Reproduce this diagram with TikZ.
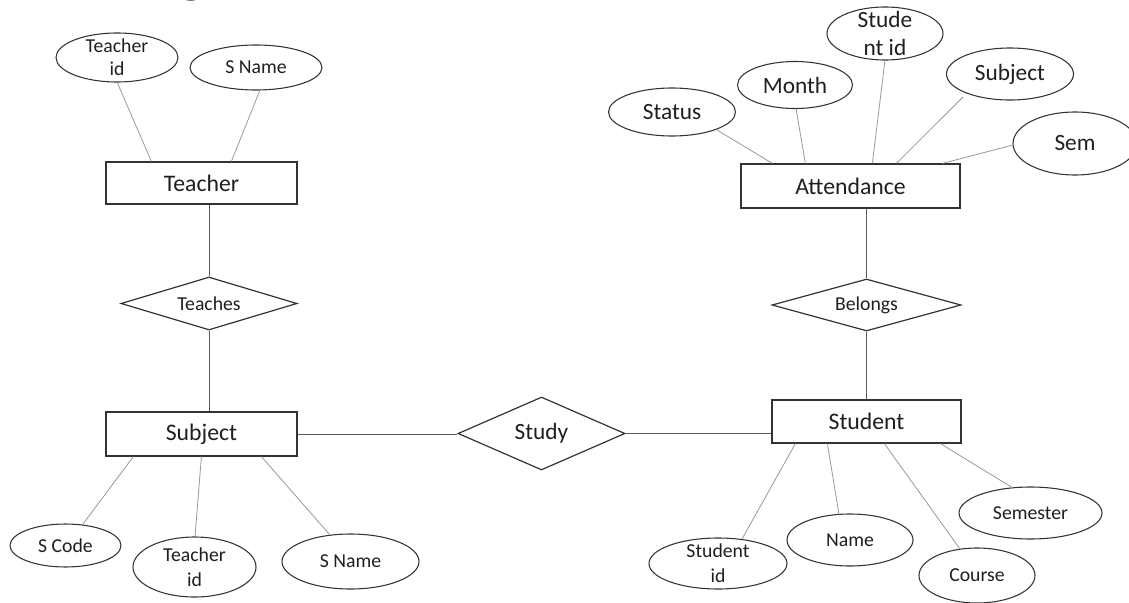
\documentclass[tikz,border=0pt]{standalone}
\usepackage{fontspec}
\setmainfont{Carlito}
\usetikzlibrary{shapes.geometric,calc}
\definecolor{ink}{HTML}{1F1F1F}
\definecolor{frame}{HTML}{333333}
\definecolor{link}{HTML}{5A5A5A}
\definecolor{attrlink}{HTML}{999999}
\begin{document}
\begin{tikzpicture}[x=0.75pt,y=-0.75pt,
  entity/.style={draw=frame,line width=0.9pt,rectangle,inner sep=0pt,font=\fontsize{17.8}{21}\selectfont,text=ink},
  rel/.style={draw=frame,line width=0.9pt,diamond,aspect=3,inner sep=0pt,font=\fontsize{14.8}{17}\selectfont,text=ink},
  attr/.style={draw=frame,line width=0.8pt,ellipse,inner sep=0pt,font=\fontsize{14.8}{17}\selectfont,text=ink},
  bigattr/.style={attr,font=\fontsize{17.5}{20}\selectfont},
  conn/.style={draw=link,line width=0.6pt},
  aconn/.style={draw=attrlink,line width=0.6pt},
  lbl/.style={align=center,inner sep=0pt,text=ink}
]
\useasboundingbox[fill=white] (0,0) rectangle (1129,603);
\clip (0,0) rectangle (1129,603);

% cut-off title
\node[anchor=base west,inner sep=0pt,font=\fontsize{42}{48}\selectfont,text=ink] (title) at (34,-8) {ER Diagram};

% entities
\node[entity,minimum width=143.25pt,minimum height=31.5pt] (Teacher) at (201.5,183) {Teacher};
\node[entity,minimum width=164.25pt,minimum height=33pt] (Attendance) at (850.5,186) {Attendance};
\node[entity,minimum width=143.25pt,minimum height=33pt] (Subject) at (201.5,434) {Subject};
\node[entity,minimum width=141.75pt,minimum height=32.25pt] (Student) at (866.5,421.5) {Student};

% relationships
\node[rel,minimum width=132pt,minimum height=39.75pt] (Teaches) at (209,303.5) {Teaches};
\node[rel,minimum width=141.75pt,minimum height=39pt] (Belongs) at (866.5,305) {Belongs};
\node[rel,font=\fontsize{17.5}{20}\selectfont,minimum width=125.25pt,minimum height=54.75pt] (Study) at (541.5,433.5) {Study};

% teacher attributes
\node[attr,minimum width=91.5pt,minimum height=36.75pt,
  label={[lbl,font=\fontsize{14.8}{17.5}\selectfont]center:Teacher\\id}] (tid1) at (117,57.5) {};
\node[attr,minimum width=99pt,minimum height=33.75pt] (tsn) at (256,67.5) {S Name};

% attendance attributes
\node[bigattr,minimum width=95.25pt,minimum height=36pt] (status) at (672,112) {Status};
\node[bigattr,minimum width=86.25pt,minimum height=35.25pt] (month) at (795,85) {Month};
\node[bigattr,minimum width=87pt,minimum height=39.75pt,
  label={[lbl,font=\fontsize{17.5}{20.5}\selectfont]center:Stude\\nt id}] (asid) at (885,33.5) {};
\node[bigattr,minimum width=95.25pt,minimum height=39pt] (asub) at (1010,74) {Subject};
\node[bigattr,minimum width=93pt,minimum height=47.25pt] (sem) at (1075,143.5) {Sem};

% subject attributes
\node[attr,minimum width=83.25pt,minimum height=32.25pt] (scode) at (65.5,545.5) {S Code};
\node[attr,minimum width=92.25pt,minimum height=45pt,
  label={[lbl,font=\fontsize{14.8}{19}\selectfont]center:Teacher\\id}] (stid) at (194.5,567) {};
\node[attr,minimum width=102.75pt,minimum height=41.25pt] (ssn) at (350.5,561.5) {S Name};

% student attributes
\node[attr,minimum width=103.5pt,minimum height=38.25pt,
  label={[lbl,font=\fontsize{14.8}{18.5}\selectfont]center:Student\\id}] (sid) at (718,563.5) {};
\node[attr,minimum width=94.5pt,minimum height=39pt] (name) at (850,540) {Name};
\node[attr,minimum width=87pt,minimum height=41.25pt] (course) at (977,575.5) {Course};
\node[attr,minimum width=107.25pt,minimum height=39pt] (semester) at (1030.5,513) {Semester};

% relationship connectors
\draw[conn] (Teaches.north) -- (Teaches.north |- Teacher.south);
\draw[conn] (Teaches.south) -- (Teaches.south |- Subject.north);
\draw[conn] (Belongs.north) -- (Belongs.north |- Attendance.south);
\draw[conn] (Belongs.south) -- (Belongs.south |- Student.north);
\draw[conn] (Subject.east) -- (Subject.east -| Study.west);
\draw[conn] (Study.east) -- (Study.east -| Student.west);

% attribute connectors
\draw[aconn] ($(tid1.center)+(0,24.5)$) -- ($(Teacher.north west)+(46,0)$);
\draw[aconn] ($(tsn.center)+(4,22.5)$) -- ($(Teacher.north west)+(126,0)$);

\draw[aconn] ($(status.center)+(45,18)$) -- ($(Attendance.north west)+(32,0)$);
\draw[aconn] ($(month.center)+(1,23.5)$) -- ($(Attendance.north west)+(65,0)$);
\draw[aconn] ($(asid.center)+(0,26.5)$) -- ($(Attendance.north west)+(132,0)$);
\draw[aconn] ($(asub.center)+(-47,23)$) -- ($(Attendance.north west)+(156,0)$);
\draw[aconn] ($(sem.center)+(-62,1.5)$) -- ($(Attendance.north west)+(202,0)$);

\draw[aconn] ($(scode.center)+(17.5,-21.5)$) -- ($(Subject.south west)+(28,0)$);
\draw[aconn] ($(stid.center)+(0.5,-30)$) -- ($(Subject.south west)+(96,0)$);
\draw[aconn] ($(ssn.center)+(-20.5,-26.5)$) -- ($(Subject.south west)+(156,0)$);

\draw[aconn] ($(sid.center)+(24,-24.5)$) -- ($(Student.south west)+(24,0)$);
\draw[aconn] ($(name.center)+(-11,-25.5)$) -- ($(Student.south west)+(56,0)$);
\draw[aconn] ($(course.center)+(-17,-26.5)$) -- ($(Student.south west)+(113,0)$);
\draw[aconn] ($(semester.center)+(-17.5,-25)$) -- ($(Student.south west)+(169,0)$);
\end{tikzpicture}
\end{document}
